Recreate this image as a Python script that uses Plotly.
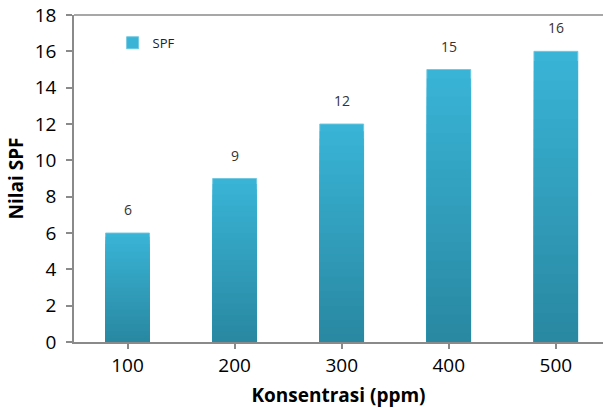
import plotly.graph_objects as go

categories = ["100", "200", "300", "400", "500"]
spf_values = [6, 9, 12, 15, 16]
y_ticks = [0, 2, 4, 6, 8, 10, 12, 14, 16, 18]

top_rgb = (57, 180, 214)
bot_rgb = (41, 136, 162)
N = 30

fig = go.Figure()
for i in range(N):
    frac = (N - i) / N  # bar fraction covered by this layer
    t = i / (N - 1)
    c = tuple(round(top_rgb[k] + (bot_rgb[k] - top_rgb[k]) * t) for k in range(3))
    col = "rgb(%d,%d,%d)" % c
    fig.add_trace(go.Bar(
        x=categories,
        y=[v * frac for v in spf_values],
        width=0.41,
        marker=dict(color=col,
                    line=dict(color="rgba(110,200,225,0.9)" if i == 0 else col, width=1 if i == 0 else 0)),
        name="SPF",
        showlegend=(i == 0),
        hoverinfo="skip",
    ))

for idx, v in enumerate(spf_values):
    fig.add_annotation(x=idx, y=v, text=str(v), showarrow=False, yanchor="bottom",
                       yshift=12, font=dict(family="Open Sans", size=14, color="#333333"))

fig.update_layout(
    barmode="overlay",
    width=603, height=408,
    margin=dict(l=74, r=0, t=15, b=66),
    paper_bgcolor="white", plot_bgcolor="white",
    font=dict(family="Open Sans", color="#000000"),
    legend=dict(x=0.073, y=0.915, xanchor="left", yanchor="middle",
                bgcolor="rgba(0,0,0,0)", font=dict(size=13, color="#222222"),
                itemwidth=30),
    xaxis=dict(
        range=[-0.5, 4.44], type="category",
        showline=True, linecolor="#8a8a8a", linewidth=1.5,
        ticks="outside", ticklen=5, tickcolor="#8a8a8a", tickwidth=1.5,
        tickfont=dict(size=19, color="#000000"),
        title=dict(text="<b>Konsentrasi (ppm)</b>", font=dict(size=19, color="#000000"), standoff=12),
        showgrid=False, zeroline=False,
    ),
    yaxis=dict(
        range=[0, 18], tickvals=y_ticks,
        showline=True, linecolor="#8a8a8a", linewidth=1.5,
        ticks="outside", ticklen=6, tickcolor="#8a8a8a", tickwidth=1.5,
        ticklabelstandoff=6,
        tickfont=dict(size=19, color="#000000"),
        title=dict(text="<b>Nilai SPF</b>", font=dict(size=19, color="#000000"), standoff=6),
        showgrid=False, zeroline=False,
    ),
)
fig.add_shape(type="line", xref="paper", yref="paper", x0=0, x1=1, y0=1, y1=1,
              line=dict(color="#8a8a8a", width=1.5))

fig.write_html("out.html")
